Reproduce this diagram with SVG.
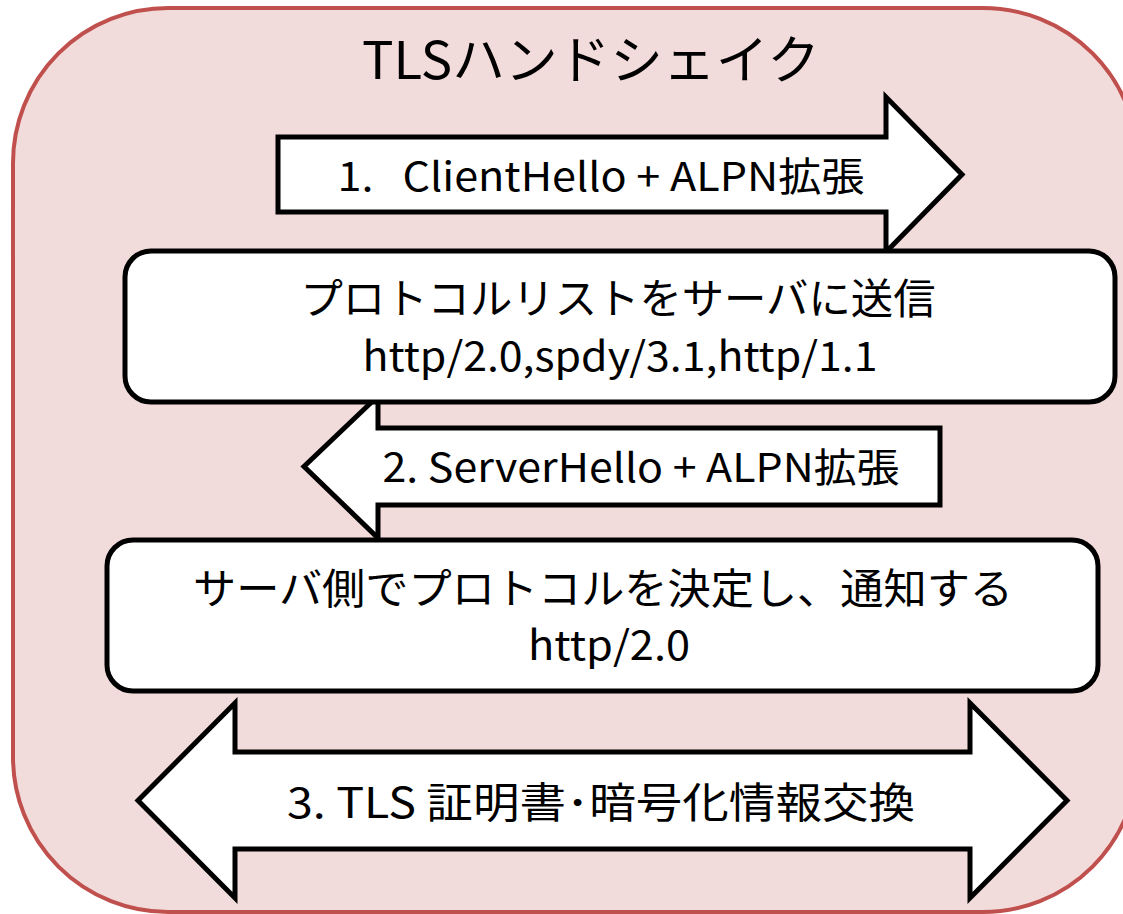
<svg xmlns="http://www.w3.org/2000/svg" width="1123" height="914" viewBox="0 0 1123 914">
<style>
.t{font-family:"Noto Sans CJK JP","Noto Sans",sans-serif;fill:#000;text-anchor:middle;white-space:pre}
.box{fill:#fff;stroke:#000;stroke-width:5}
.arr{fill:#fff;stroke:#000;stroke-width:5;stroke-linejoin:miter}
</style>
<rect width="1123" height="914" fill="#fff"/>
<g id="frame">
<rect x="13" y="8" width="1125" height="904" rx="155" ry="155" fill="#F2DCDB" stroke="#C0504D" stroke-width="4"/>
<text class="t" x="591" y="79" font-size="52" textLength="458" lengthAdjust="spacingAndGlyphs">TLSハンドシェイク</text>
</g>
<g id="connectors">
<g id="arrow1">
<polygon class="arr" points="278,137 886,137 886,97 962,174.5 886,252 886,212 278,212"/>
<text class="t" x="601" y="191" font-size="40" textLength="527" lengthAdjust="spacingAndGlyphs" xml:space="preserve">1.   ClientHello + ALPN拡張</text>
</g>
<g id="arrow2">
<polygon class="arr" points="940,428 378,428 378,396 304,466.5 378,538 378,505 940,505"/>
<text class="t" x="641" y="482" font-size="40" textLength="517" lengthAdjust="spacingAndGlyphs">2. ServerHello + ALPN拡張</text>
</g>
<g id="arrow3">
<polygon class="arr" points="138,800.5 235,703 235,752 970,752 970,703 1067,800.5 970,898 970,849 235,849 235,898"/>
<text class="t" x="601" y="818" font-size="42" textLength="628" lengthAdjust="spacingAndGlyphs">3. TLS 証明書･暗号化情報交換</text>
</g>
</g>
<g id="box1">
<rect class="box" x="125" y="251" width="990" height="151" rx="26" ry="26"/>
<text class="t" x="618" y="314" font-size="42" textLength="635" lengthAdjust="spacingAndGlyphs">プロトコルリストをサーバに送信</text>
<text class="t" x="620" y="371" font-size="40" textLength="515" lengthAdjust="spacingAndGlyphs">http/2.0,spdy/3.1,http/1.1</text>
</g>
<g id="box2">
<rect class="box" x="107" y="540" width="991" height="151" rx="26" ry="26"/>
<text class="t" x="603" y="604" font-size="42" textLength="820" lengthAdjust="spacingAndGlyphs">サーバ側でプロトコルを決定し、通知する</text>
<text class="t" x="609" y="660" font-size="40" textLength="162" lengthAdjust="spacingAndGlyphs">http/2.0</text>
</g>
</svg>
